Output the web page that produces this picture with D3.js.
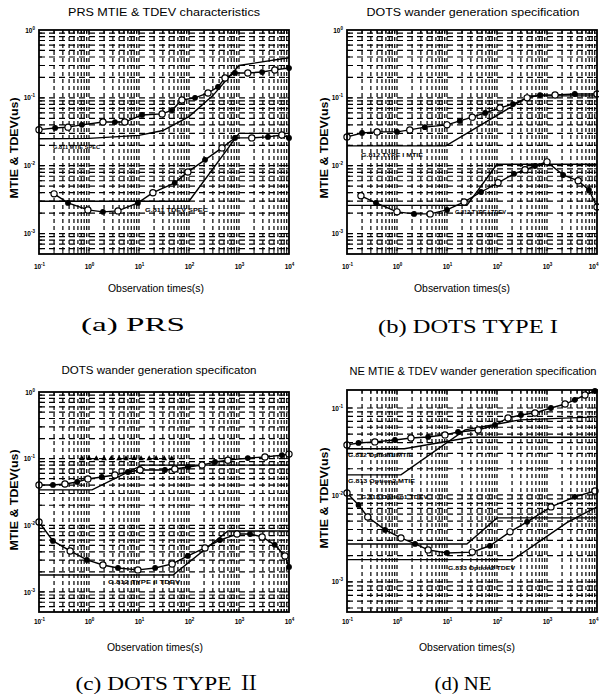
<!DOCTYPE html>
<html><head><meta charset="utf-8">
<script src="https://cdn.jsdelivr.net/npm/d3@7"></script>
<style>body{margin:0;background:#fff}svg{display:block}</style>
</head><body>
<svg id="c" width="599" height="698"></svg>
<script>
// ---------- data (tau in s, value in us) ----------
const xTickValues = [0.1, 1, 10, 100, 1000, 10000];
const xTickExp = ["-1", "0", "1", "2", "3", "4"];
const yTicksABC = [1, 0.1, 0.01, 0.001];
const yTickExpABC = ["0", "-1", "-2", "-3"];
const yTicksD = [0.1, 0.01, 0.001];
const yTickExpD = ["-1", "-2", "-3"];

const titles = ["PRS MTIE & TDEV characteristics", "DOTS wander generation specification",
                "DOTS wander generation specificaton", "NE MTIE & TDEV wander generation specification"];
const captions = ["(a) PRS", "(b) DOTS TYPE I", "(c) DOTS TYPE \u2161", "(d) NE"];

// (a) PRS
const prsMtie = [[0.1,0.034],[0.21,0.036],[0.38,0.037],[0.72,0.040],[1.9,0.044],[3.3,0.044],[5.2,0.044],[11.5,0.056],[29,0.058],[46,0.066],[72,0.093],[132,0.10],[240,0.118],[380,0.145],[525,0.196],[830,0.233],[1500,0.233],[2900,0.24],[5200,0.258],[10000,0.275]];
const prsMtieSpec = [[0.1,0.025],[1,0.0253],[10,0.028],[30,0.033],[100,0.053],[300,0.108],[1000,0.30],[10000,0.39]];
const prsTdev = [[0.2,0.00385],[0.38,0.00283],[0.95,0.00223],[1.9,0.00209],[3.8,0.00216],[9.5,0.00283],[19,0.004],[52,0.0056],[95,0.0081],[209,0.0122],[457,0.0183],[830,0.0257],[1800,0.0257],[3800,0.0266],[7200,0.0284],[10000,0.0257]];
const prsTdevSpec = [[0.1,0.003],[100,0.003],[1000,0.03],[10000,0.03]];

// (b) DOTS TYPE I
const dots1Mtie = [[0.1,0.0266],[0.2,0.0304],[0.4,0.0315],[1.0,0.0315],[1.8,0.0337],[3.6,0.037],[10,0.040],[18,0.0457],[32,0.052],[58,0.060],[115,0.071],[209,0.081],[400,0.10],[724,0.11],[1450,0.11],[3600,0.114],[10000,0.114]];
const dots1MtieSpec = [[0.1,0.0196],[9.5,0.0196],[450,0.107],[10000,0.107]];
const dots1Tdev = [[0.19,0.0036],[0.38,0.00283],[1.0,0.00209],[2.2,0.00195],[4.6,0.00195],[10,0.00223],[22,0.00293],[48,0.0041],[105,0.0056],[219,0.0076],[363,0.0087],[575,0.0099],[1000,0.0114],[2100,0.0073],[4200,0.006],[6900,0.0044],[10000,0.00247]];
const dots1TdevSpec = [[0.1,0.0026],[25,0.0026],[100,0.0105],[10000,0.0105]];

// (c) DOTS TYPE II
const dots2Mtie = [[0.1,0.0403],[0.19,0.0403],[0.33,0.0417],[0.58,0.0447],[0.95,0.0496],[1.8,0.053],[3.3,0.0569],[6,0.063],[10.5,0.0676],[33,0.0676],[52,0.07],[95,0.075],[182,0.080],[331,0.089],[600,0.095],[1500,0.102],[3300,0.106],[7200,0.113],[10000,0.117]];
const dots2MtieSpec = [[0.1,0.034],[1.15,0.034],[11.5,0.08],[10000,0.08]];
const dots2MtieAux = [[0.72,0.10],[1.0,0.101],[1.4,0.10],[2.0,0.10],[2.8,0.101],[4.0,0.10],[5.5,0.10],[8,0.101],[11,0.10],[16,0.10],[22,0.101],[32,0.10],[45,0.10]];
const dots2Tdev = [[0.1,0.0112],[0.19,0.00582],[0.42,0.00412],[0.91,0.00302],[1.9,0.00254],[3.8,0.00229],[9.5,0.00214],[21,0.00229],[46,0.00263],[95,0.00347],[209,0.00457],[417,0.006],[912,0.0074],[1660,0.0074],[2900,0.0067],[5200,0.0051],[8300,0.00347],[10000,0.00237]];
const dots2TdevSpec = [[0.1,0.0018],[48,0.0018],[600,0.0082],[10000,0.0082]];

// (d) NE
const neMtie = [[0.1,0.0376],[0.17,0.0396],[0.36,0.0407],[0.91,0.0428],[1.9,0.0452],[4.2,0.0464],[9.1,0.049],[16.6,0.053],[42,0.0559],[91,0.0638],[166,0.0767],[302,0.083],[575,0.0877],[1200,0.1],[2300,0.111],[3600,0.124],[5750,0.141],[9100,0.157]];
const neMtieSpec1 = [[0.1,0.034],[1.4,0.034],[30,0.046],[10000,0.046]];
const neMtieSpec2 = [[0.1,0.017],[1.2,0.017],[23,0.056],[290,0.073],[10000,0.079]];
const neTdev = [[0.1,0.0105],[0.17,0.00767],[0.26,0.00558],[0.58,0.00396],[1.2,0.0032],[2.3,0.00273],[4.2,0.00233],[10,0.00215],[32,0.0022],[72,0.0026],[182,0.00376],[400,0.0049],[1200,0.00728],[3600,0.0095],[9100,0.0111]];
const neTdevSpec1 = [[0.1,0.00273],[25,0.00273],[100,0.00544],[10000,0.00544]];
const neTdevSpec2 = [[0.1,0.0018],[209,0.0018],[2500,0.0048],[10000,0.0073]];

const noteTexts = [["G.811 MTIE SPEC","G.811 TDEV SPEC"],["G.812 TYPE I MTIE","G.812 TYPE I TDEV"],["G.812 TYPE II TDEV"],["G.812 Option1 MTIE","G.813 Option2 MTIE","G.813 Option1 TDEV","G.813 Option2 TDEV"]];

// ---------- layout ----------
const panels = [
 {x0:39,x1:289,y0:30,y1:254,yDom:[5e-4,1],yT:yTicksABC,yE:yTickExpABC,tX:164,tY:16,tW:192,ylX:14,ylY:148,xlX:156,xlY:292,xtY:269,cX:133,cY:331,cW:104,
  meas:[prsMtie,prsTdev],spec:[prsMtieSpec,prsTdevSpec],aux:[],
  notes:[[53,149,47],[145,212,63]]},
 {x0:347,x1:597,y0:30,y1:254,yDom:[5e-4,1],yT:yTicksABC,yE:yTickExpABC,tX:473,tY:16,tW:213,ylX:324,ylY:148,xlX:462,xlY:292,xtY:269,cX:468,cY:333,cW:180,
  meas:[dots1Mtie,dots1Tdev],spec:[dots1MtieSpec,dots1TdevSpec],aux:[],
  notes:[[361,157,62],[455,214,51]]},
 {x0:39,x1:289,y0:392,y1:612,yDom:[5e-4,1],yT:yTicksABC,yE:yTickExpABC,tX:159,tY:374,tW:195,ylX:14,ylY:500,xlX:155,xlY:651,xtY:624,cX:168,cY:690,cW:185,
  meas:[dots2Mtie,dots2Tdev],spec:[dots2MtieSpec,dots2TdevSpec],aux:[dots2MtieAux],
  notes:[[108,584,72]]},
 {x0:347,x1:597,y0:390,y1:612,yDom:[4.5e-4,0.161],yT:yTicksD,yE:yTickExpD,tX:473,tY:375,tW:247,ylX:324,ylY:498,xlX:467,xlY:651,xtY:624,cX:463,cY:690,cW:57,
  meas:[neMtie,neTdev],spec:[neMtieSpec1,neMtieSpec2,neTdevSpec1,neTdevSpec2],aux:[],
  notes:[[348,457,65],[348,483,67],[361,499,67],[448,570,67]]}
];

const svg = d3.select("#c");
const SANS = "Liberation Sans, Arial, Helvetica, sans-serif";

panels.forEach((p, pi) => {
  const x = d3.scaleLog().domain([0.1, 10000]).range([p.x0, p.x1]);
  const y = d3.scaleLog().domain(p.yDom).range([p.y1, p.y0]);
  const g = svg.append("g");

  // grid (log minor grid: multiples 1..9 of each decade)
  const gx = x.ticks(20).filter(v => x(v) > p.x0 + 0.5 && x(v) < p.x1 - 0.5);
  const gy = y.ticks(20).filter(v => y(v) > p.y0 + 0.5 && y(v) < p.y1 - 0.5);
  g.append("g").selectAll("line").data(gx).join("line")
    .attr("x1", d => x(d)).attr("x2", d => x(d)).attr("y1", p.y0).attr("y2", p.y1)
    .attr("stroke", "#000").attr("stroke-width", 1.2).attr("stroke-dasharray", "4,3");
  g.append("g").selectAll("line").data(gy).join("line")
    .attr("y1", d => y(d)).attr("y2", d => y(d)).attr("x1", p.x0).attr("x2", p.x1)
    .attr("stroke", "#000").attr("stroke-width", 1.2).attr("stroke-dasharray", "6,4");

  // inward ticks
  const isMajor = v => Math.abs(Math.log10(v) - Math.round(Math.log10(v))) < 1e-6;
  const tk = g.append("g").attr("stroke", "#000").attr("stroke-width", 1);
  gx.forEach(v => { const L = isMajor(v) ? 5 : 3;
    tk.append("line").attr("x1", x(v)).attr("x2", x(v)).attr("y1", p.y1).attr("y2", p.y1 - L);
    tk.append("line").attr("x1", x(v)).attr("x2", x(v)).attr("y1", p.y0).attr("y2", p.y0 + L); });
  gy.forEach(v => { const L = isMajor(v) ? 5 : 3;
    tk.append("line").attr("y1", y(v)).attr("y2", y(v)).attr("x1", p.x0).attr("x2", p.x0 + L);
    tk.append("line").attr("y1", y(v)).attr("y2", y(v)).attr("x1", p.x1).attr("x2", p.x1 - L); });

  // axes labels via d3 axes
  const ax = g.append("g").attr("transform", `translate(0,${p.xtY - 3})`)
    .call(d3.axisBottom(x).tickValues(xTickValues).tickSize(0).tickPadding(0).tickFormat(""));
  ax.select(".domain").remove();
  ax.selectAll(".tick text").each(function(d, i) {
    const t = d3.select(this).attr("dy", null).attr("y", 3).attr("font-family", SANS).attr("font-weight", "bold").attr("font-size", 6.5).attr("fill", "#000");
    if (p.x1 > 590 && i === xTickValues.length - 1) t.attr("text-anchor", "end").attr("x", 1);
    t.text(null);
    t.append("tspan").text("10");
    t.append("tspan").attr("dy", -3).attr("font-size", 4.5).text(xTickExp[i]);
  });
  const ay = g.append("g").attr("transform", `translate(${p.x0 - 4},0)`)
    .call(d3.axisLeft(y).tickValues(p.yT).tickSize(0).tickPadding(0).tickFormat(""));
  ay.select(".domain").remove();
  ay.selectAll(".tick text").each(function(d, i) {
    const t = d3.select(this).attr("font-family", SANS).attr("font-weight", "bold").attr("font-size", 6.5).attr("fill", "#000");
    t.text(null);
    t.append("tspan").text("10");
    t.append("tspan").attr("dy", -3).attr("font-size", 4.5).text(p.yE[i]);
  });

  // series
  const line = d3.line().x(d => x(d[0])).y(d => y(d[1]));
  const clip = "clip" + pi;
  svg.append("clipPath").attr("id", clip).append("rect")
    .attr("x", p.x0 - 4).attr("y", p.y0 - 4).attr("width", p.x1 - p.x0 + 8).attr("height", p.y1 - p.y0 + 8);
  const sg = g.append("g").attr("clip-path", `url(#${clip})`);
  p.spec.forEach(s => sg.append("path").datum(s).attr("d", line)
    .attr("fill", "none").attr("stroke", "#000").attr("stroke-width", 1.4));
  p.meas.forEach(s => {
    sg.append("path").datum(s).attr("d", line).attr("fill", "none").attr("stroke", "#000").attr("stroke-width", 1.4);
    sg.selectAll(null).data(s).join("circle")
      .attr("cx", d => x(d[0])).attr("cy", d => y(d[1]))
      .attr("r", (d, i) => i % 2 ? 2.3 : 3.1)
      .attr("fill", (d, i) => i % 2 ? "#000" : "#fff")
      .attr("stroke", "#000").attr("stroke-width", 1.2);
  });
  p.aux.forEach(s => sg.selectAll(null).data(s).join("path")
    .attr("transform", d => `translate(${x(d[0])},${y(d[1])})`)
    .attr("d", d3.symbol(d3.symbolTriangle, 14)).attr("fill", "#000"));

  // frame
  g.append("rect").attr("x", p.x0).attr("y", p.y0).attr("width", p.x1 - p.x0).attr("height", p.y1 - p.y0)
    .attr("fill", "none").attr("stroke", "#000").attr("stroke-width", 1.8);

  // notes
  p.notes.forEach((n, i) => g.append("text").attr("x", n[0]).attr("y", n[1])
    .attr("font-family", SANS).attr("font-weight", "bold").attr("font-size", 6)
    .attr("textLength", n[2]).attr("lengthAdjust", "spacingAndGlyphs").text(noteTexts[pi][i]));

  // titles & labels
  g.append("text").attr("x", p.tX - p.tW / 2).attr("y", p.tY).attr("font-family", SANS).attr("font-size", 11)
    .attr("textLength", p.tW).attr("lengthAdjust", "spacingAndGlyphs").text(titles[pi]);
  g.append("text").attr("transform", `translate(${p.ylX + 4},${p.ylY}) rotate(-90)`).attr("text-anchor", "middle")
    .attr("font-family", SANS).attr("font-weight", "bold").attr("font-size", 10.5)
    .attr("textLength", 101).attr("lengthAdjust", "spacingAndGlyphs").text("MTIE & TDEV(us)");
  g.append("text").attr("x", p.xlX - 48).attr("y", p.xlY).attr("font-family", SANS).attr("font-size", 10.5)
    .attr("textLength", 96).attr("lengthAdjust", "spacingAndGlyphs").text("Observation times(s)");
  g.append("text").attr("x", p.cX - p.cW / 2).attr("y", p.cY)
    .attr("font-family", "Liberation Serif, 'Noto Serif CJK KR', 'Noto Sans CJK KR', serif").attr("font-size", 19)
    .attr("textLength", p.cW).attr("lengthAdjust", "spacingAndGlyphs").text(captions[pi]);
});
</script>
</body></html>
